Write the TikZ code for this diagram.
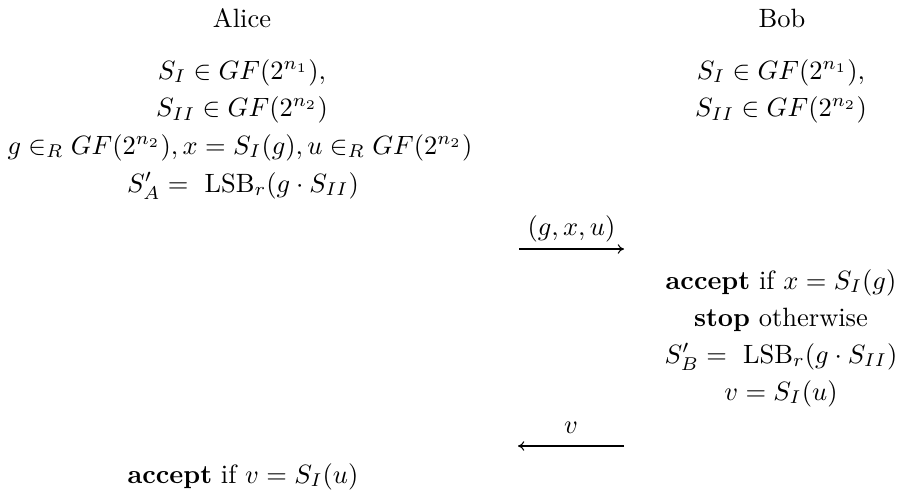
\documentclass[tikz,border=0pt]{standalone}
\usepackage{amsmath}
\usetikzlibrary{arrows.meta}

\begin{document}
\begin{tikzpicture}[x=0.3777pt,y=-0.3777pt,
  line/.style={inner sep=0pt,anchor=base},
  msg/.style={-{To[length=2.4pt,width=3.6pt]},line width=0.4pt}
]
\useasboundingbox (0,0) rectangle (901,494);
% parties
\node[line] (alice) at (242,27) {Alice};
\node[line] (bob) at (782,27) {Bob};
% Alice, before the first message
\node[line] (aSI) at (242,79) {$S_I\in GF(2^{n_1}),$};
\node[line] (aSII) at (242,116.5) {$S_{II}\in GF(2^{n_2})$};
\node[line] (achoose) at (240,154) {$g\in_R GF(2^{n_2}), x=S_I(g), u\in_R GF(2^{n_2})$};
\node[line] (akey) at (243,192) {$S'_A=\ \mathrm{LSB}_r(g\cdot S_{II})$};
% Bob, shared secrets
\node[line] (bSI) at (781,79) {$S_I\in GF(2^{n_1}),$};
\node[line] (bSII) at (781,116.5) {$S_{II}\in GF(2^{n_2})$};
% first message
\coordinate (m1a) at (519,249);
\coordinate (m1b) at (624,249);
\node[line] (m1lab) at (571.5,235) {$(g,x,u)$};
\draw[msg] (m1a) -- (m1b);
% Bob, after the first message
\node[line] (baccept) at (781,289) {\textbf{accept} if $x=S_I(g)$};
\node[line] (bstop) at (781,326) {\textbf{stop} otherwise};
\node[line] (bkey) at (781,363) {$S'_B=\ \mathrm{LSB}_r(g\cdot S_{II})$};
\node[line] (bv) at (781,400) {$v=S_I(u)$};
% second message
\coordinate (m2a) at (624,446);
\coordinate (m2b) at (518,446);
\node[line] (m2lab) at (571,433) {$v$};
\draw[msg] (m2a) -- (m2b);
% Alice, last check
\node[line] (aaccept) at (243,483) {\textbf{accept} if $v=S_I(u)$};
\end{tikzpicture}
\end{document}
